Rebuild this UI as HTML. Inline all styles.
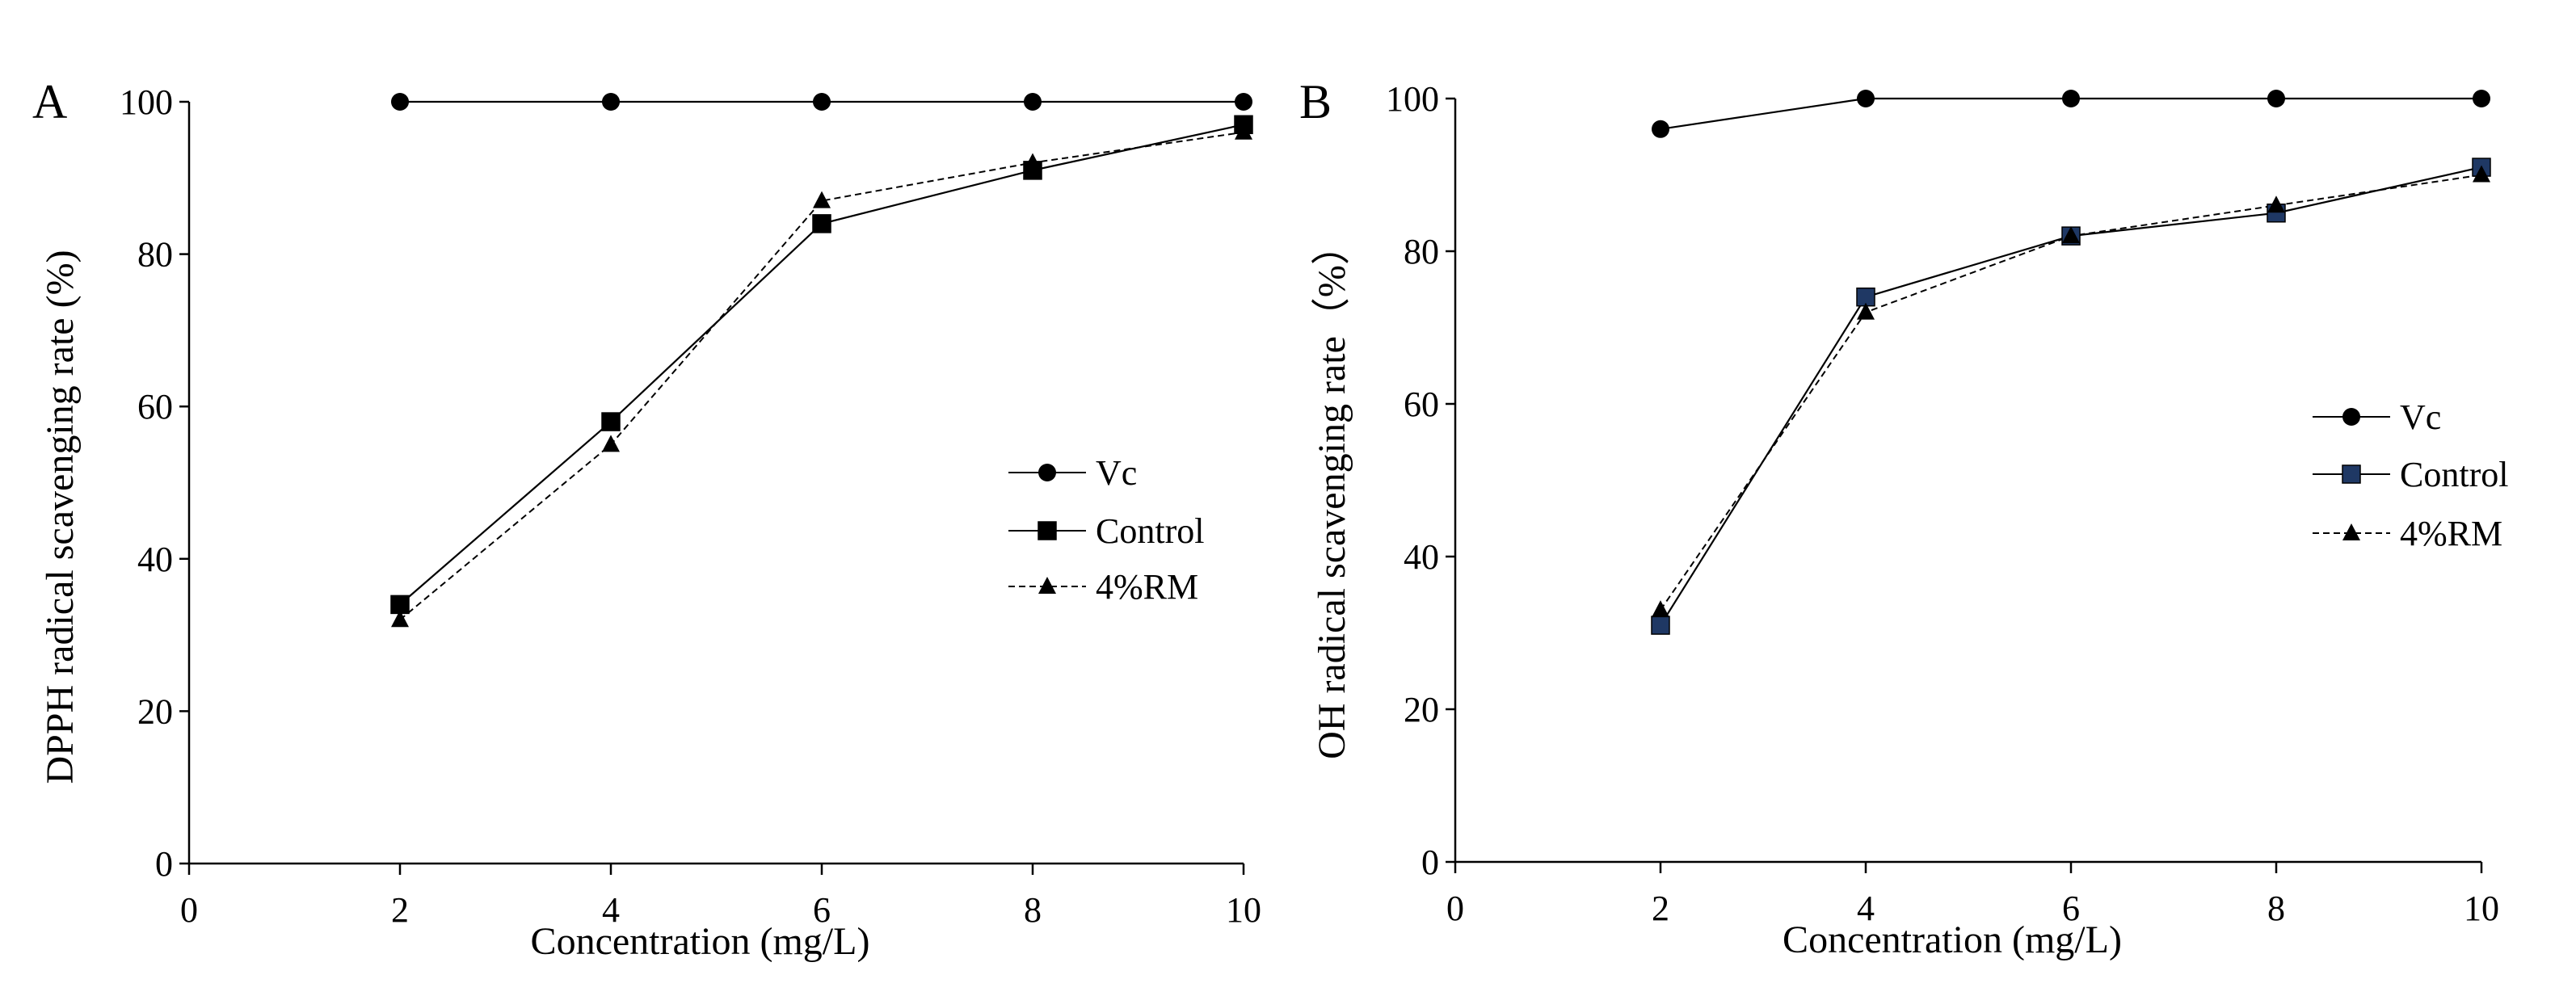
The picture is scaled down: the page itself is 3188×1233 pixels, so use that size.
<!DOCTYPE html>
<html><head><meta charset="utf-8"><style>
html,body{margin:0;padding:0;background:#fff;}
svg text{font-family:"Liberation Serif",serif;fill:#000;}
</style></head><body>
<svg id="chart" width="3188" height="1228" xmlns="http://www.w3.org/2000/svg"></svg>
<script>
const xCats = [2, 4, 6, 8, 10];
const xTicks = [0, 2, 4, 6, 8, 10];
const yTicks = [0, 20, 40, 60, 80, 100];
const aVc = [100, 100, 100, 100, 100];
const aControl = [34, 58, 84, 91, 97];
const aRM = [32, 55, 87, 92, 96];
const bVc = [96, 100, 100, 100, 100];
const bControl = [31, 74, 82, 85, 91];
const bRM = [33, 72, 82, 86, 90];
const seriesNames = ["Vc", "Control", "4%RM"];

const NS = "http://www.w3.org/2000/svg";
const svg = document.getElementById("chart");
function mk(tag, attrs, parent) {
  const e = document.createElementNS(NS, tag);
  for (const k in attrs) e.setAttribute(k, attrs[k]);
  (parent || svg).appendChild(e);
  return e;
}
function marker(g, type, x, y, fill) {
  let m;
  if (type === 0) m = mk("circle", {cx: x, cy: y, r: 11, fill: "#000"}, g);
  else if (type === 1) m = mk("rect", {x: x - 11, y: y - 11, width: 22, height: 22, fill: fill, stroke: "#000", "stroke-width": 1.5}, g);
  else m = mk("polygon", {points: `${x},${y - 12} ${x - 11},${y + 9} ${x + 11},${y + 9}`, fill: "#000"}, g);
  return m;
}
function panel(p) {
  const g = mk("g", {});
  
  
  const sx = v => p.x0 + (v / 10) * (p.x1 - p.x0);
  const sy = v => p.y0 - (v / 100) * (p.y0 - p.y1);
  const ax = mk("path", {d: `M${p.x0},${p.y1} V${p.y0} H${p.x1}`, stroke: "#000", "stroke-width": 2.5, fill: "none"}, g);
  
  
  yTicks.forEach(v => {
    mk("line", {x1: p.x0 - 12, x2: p.x0, y1: sy(v), y2: sy(v), stroke: "#000", "stroke-width": 2.5}, g);
    const t = mk("text", {x: p.x0 - 20, y: sy(v) + 15, "font-size": 44, "text-anchor": "end"}, g);
    t.textContent = v;
    
    
  });
  xTicks.forEach(v => {
    mk("line", {x1: sx(v), x2: sx(v), y1: p.y0, y2: p.y0 + 14, stroke: "#000", "stroke-width": 2.5}, g);
    const t = mk("text", {x: sx(v), y: p.y0 + 72, "font-size": 44, "text-anchor": "middle"}, g);
    t.textContent = v;
    
    
  });
  const xt = mk("text", {x: (p.x0 + p.x1) / 2 - 20, y: p.y0 + 112, "font-size": 48, "text-anchor": "middle"}, g);
  xt.textContent = "Concentration (mg/L)";
  
  
  const yt = mk("text", {x: 0, y: 0, "font-size": 48, "text-anchor": "middle", transform: `translate(${p.ytx},${p.yty}) rotate(-90)`}, g);
  yt.textContent = p.ytitle;
  
  
  const lb = mk("text", {x: p.lx, y: p.ly, "font-size": 60}, g);
  lb.textContent = p.label;
  
  
  const series = [p.vc, p.control, p.rm];
  series.forEach((vals, i) => {
    const pts = vals.map((v, j) => `${sx(xCats[j])},${sy(v)}`).join(" ");
    const line = mk("polyline", {points: pts, fill: "none", stroke: "#000", "stroke-width": i === 2 ? 2 : 2.2, "stroke-dasharray": i === 2 ? "8,5" : "none"}, g);
    
    
  });
  series.forEach((vals, i) => {
    vals.forEach((v, j) => {
      const m = marker(g, i, sx(xCats[j]), sy(v), p.sqFill);
      
      
    });
  });
  seriesNames.forEach((n, i) => {
    const y = p.legY[i];
    const lg = mk("g", {}, g);
    
    
    mk("line", {x1: p.legX, x2: p.legX + 96, y1: y, y2: y, stroke: "#000", "stroke-width": 2, "stroke-dasharray": i === 2 ? "8,5" : "none"}, lg);
    marker(lg, i, p.legX + 48, y, p.sqFill);
    const t = mk("text", {x: p.legX + 108, y: y + 15, "font-size": 44}, lg);
    t.textContent = n;
  });
}
panel({name: "panel-a", x0: 234, x1: 1539, y0: 1069, y1: 126, ytitle: "DPPH radical scavenging rate (%)", ytx: 90, yty: 640,
  label: "A", lx: 40, ly: 146, vc: aVc, control: aControl, rm: aRM, sqFill: "#000", legX: 1248, legY: [585, 657, 726]});
panel({name: "panel-b", x0: 1801, x1: 3071, y0: 1067, y1: 122, ytitle: "OH radical scavenging rate\uFF08%\uFF09", ytx: 1664, yty: 610,
  label: "B", lx: 1608, ly: 146, vc: bVc, control: bControl, rm: bRM, sqFill: "#1f3864", legX: 2862, legY: [516, 587, 660]});
</script>
</body></html>
